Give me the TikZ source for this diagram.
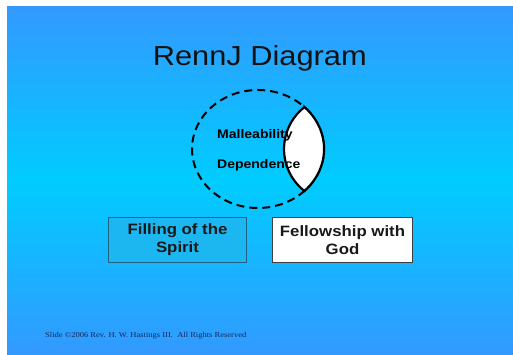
\documentclass[tikz,border=0pt]{standalone}
\usepackage{fontspec}
\setmainfont{Liberation Sans}
\newfontfamily\arialx[FakeStretch=1.12]{Liberation Sans}
\newfontfamily\timesx[FakeStretch=1.12]{Liberation Serif}
\definecolor{slidetop}{RGB}{51,153,255}
\definecolor{slidemid}{RGB}{0,204,255}
\definecolor{boxfill}{RGB}{28,182,240}
\definecolor{boxedge}{RGB}{30,100,130}
\definecolor{footcol}{RGB}{25,40,90}
\tikzset{
  labeltext/.style={font=\arialx\bfseries\fontsize{12.5}{14}\selectfont, text=black, inner sep=0pt},
  conceptbox/.style={minimum width=138.4pt, minimum height=45pt, inner sep=0pt, align=center,
     font=\arialx\bfseries\fontsize{15}{18.3}\selectfont, text=black!90},
}
\begin{document}
\begin{tikzpicture}[x=1pt,y=1pt]
\useasboundingbox (0,0) rectangle (513,355);
\fill[white] (0,0) rectangle (513,355);
\node[inner sep=0pt, minimum width=506pt, minimum height=348pt, top color=slidetop, bottom color=slidetop, middle color=slidemid, anchor=south west] (slide) at (7,0) {};
\node[anchor=base, inner sep=0pt, font=\arialx\fontsize{27.5}{30}\selectfont, text=black!93] (title) at (259.8,289.3) {RennJ Diagram};
% dashed ellipse
\draw[line width=2pt, dash pattern=on 8pt off 5pt] (258,206) ellipse [x radius=66, y radius=59];
\coordinate (lenstop) at (304.4,248);
% lens
\draw[line width=2.2pt, fill=white, line join=miter] (lenstop) arc[start angle=45.4, end angle=-45.4, x radius=66, y radius=59]
  arc[start angle=231.8, end angle=128.2, radius=53.4] -- cycle;
\node[labeltext, anchor=base west] (mall) at (217,216.7) {Malleability};
\node[labeltext, anchor=base west] (dep) at (217,186.3) {Dependence};
\node[conceptbox, fill=boxfill, draw=boxedge, line width=0.8pt] (fill) at (177.5,115.2) {Filling of the\\Spirit};
\node[conceptbox, fill=white, draw=black!75, line width=0.8pt, minimum width=140.4pt] (fellow) at (342.5,115.2) {Fellowship with\\God};
\node[anchor=base west, inner sep=0pt, font=\timesx\fontsize{7.6}{9}\selectfont, text=footcol] (foot) at (45,17) {Slide \textcopyright2006 Rev. H. W. Hastings III.\ \ All Rights Reserved};
\end{tikzpicture}
\end{document}
